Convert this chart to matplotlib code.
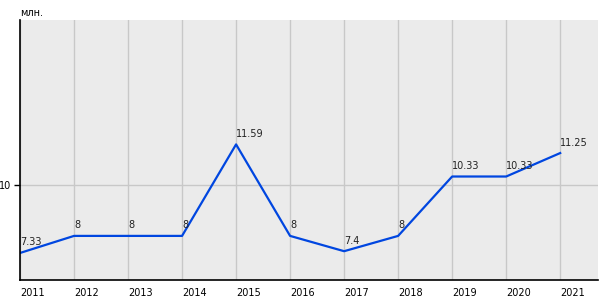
import matplotlib.pyplot as plt

years = [2011, 2012, 2013, 2014, 2015, 2016, 2017, 2018, 2019, 2020, 2021]
values = [7.33, 8, 8, 8, 11.59, 8, 7.4, 8, 10.33, 10.33, 11.25]
labels = ["7.33", "8", "8", "8", "11.59", "8", "7.4", "8", "10.33", "10.33", "11.25"]

fig = plt.figure(figsize=(6, 3), dpi=100)
ax = fig.add_axes([20 / 600, 20 / 300, 578 / 600, 260 / 300])
ax.set_facecolor('#ebebeb')

ax.plot(years, values, color='#0046e0', linewidth=1.6)
for x, y, t in zip(years, values, labels):
    ax.annotate(t, (x, y), xytext=(0, 4), textcoords='offset points',
                fontsize=7, ha='left', va='bottom', color='#222222')

ax.set_xlim(2011, 2021.7)
ax.set_ylim(6.27, 16.47)
ax.set_xticks(years)
ax.set_xticklabels([str(y) for y in years], ha='left')
ax.set_yticks([10])
ax.grid(True, color='#c8c8c8', linewidth=1)
ax.set_axisbelow(True)
ax.tick_params(labelsize=7, length=4, width=1, color='black', pad=2)
ax.tick_params(axis='x', length=0, pad=6)
for s in ['top', 'right']:
    ax.spines[s].set_visible(False)
for s in ['left', 'bottom']:
    ax.spines[s].set_color('black')
    ax.spines[s].set_linewidth(1.2)

fig.text(20 / 600, 1 - 13 / 300, 'млн.', fontsize=7, va='center', ha='left')

fig.savefig('out.png', dpi=100)
